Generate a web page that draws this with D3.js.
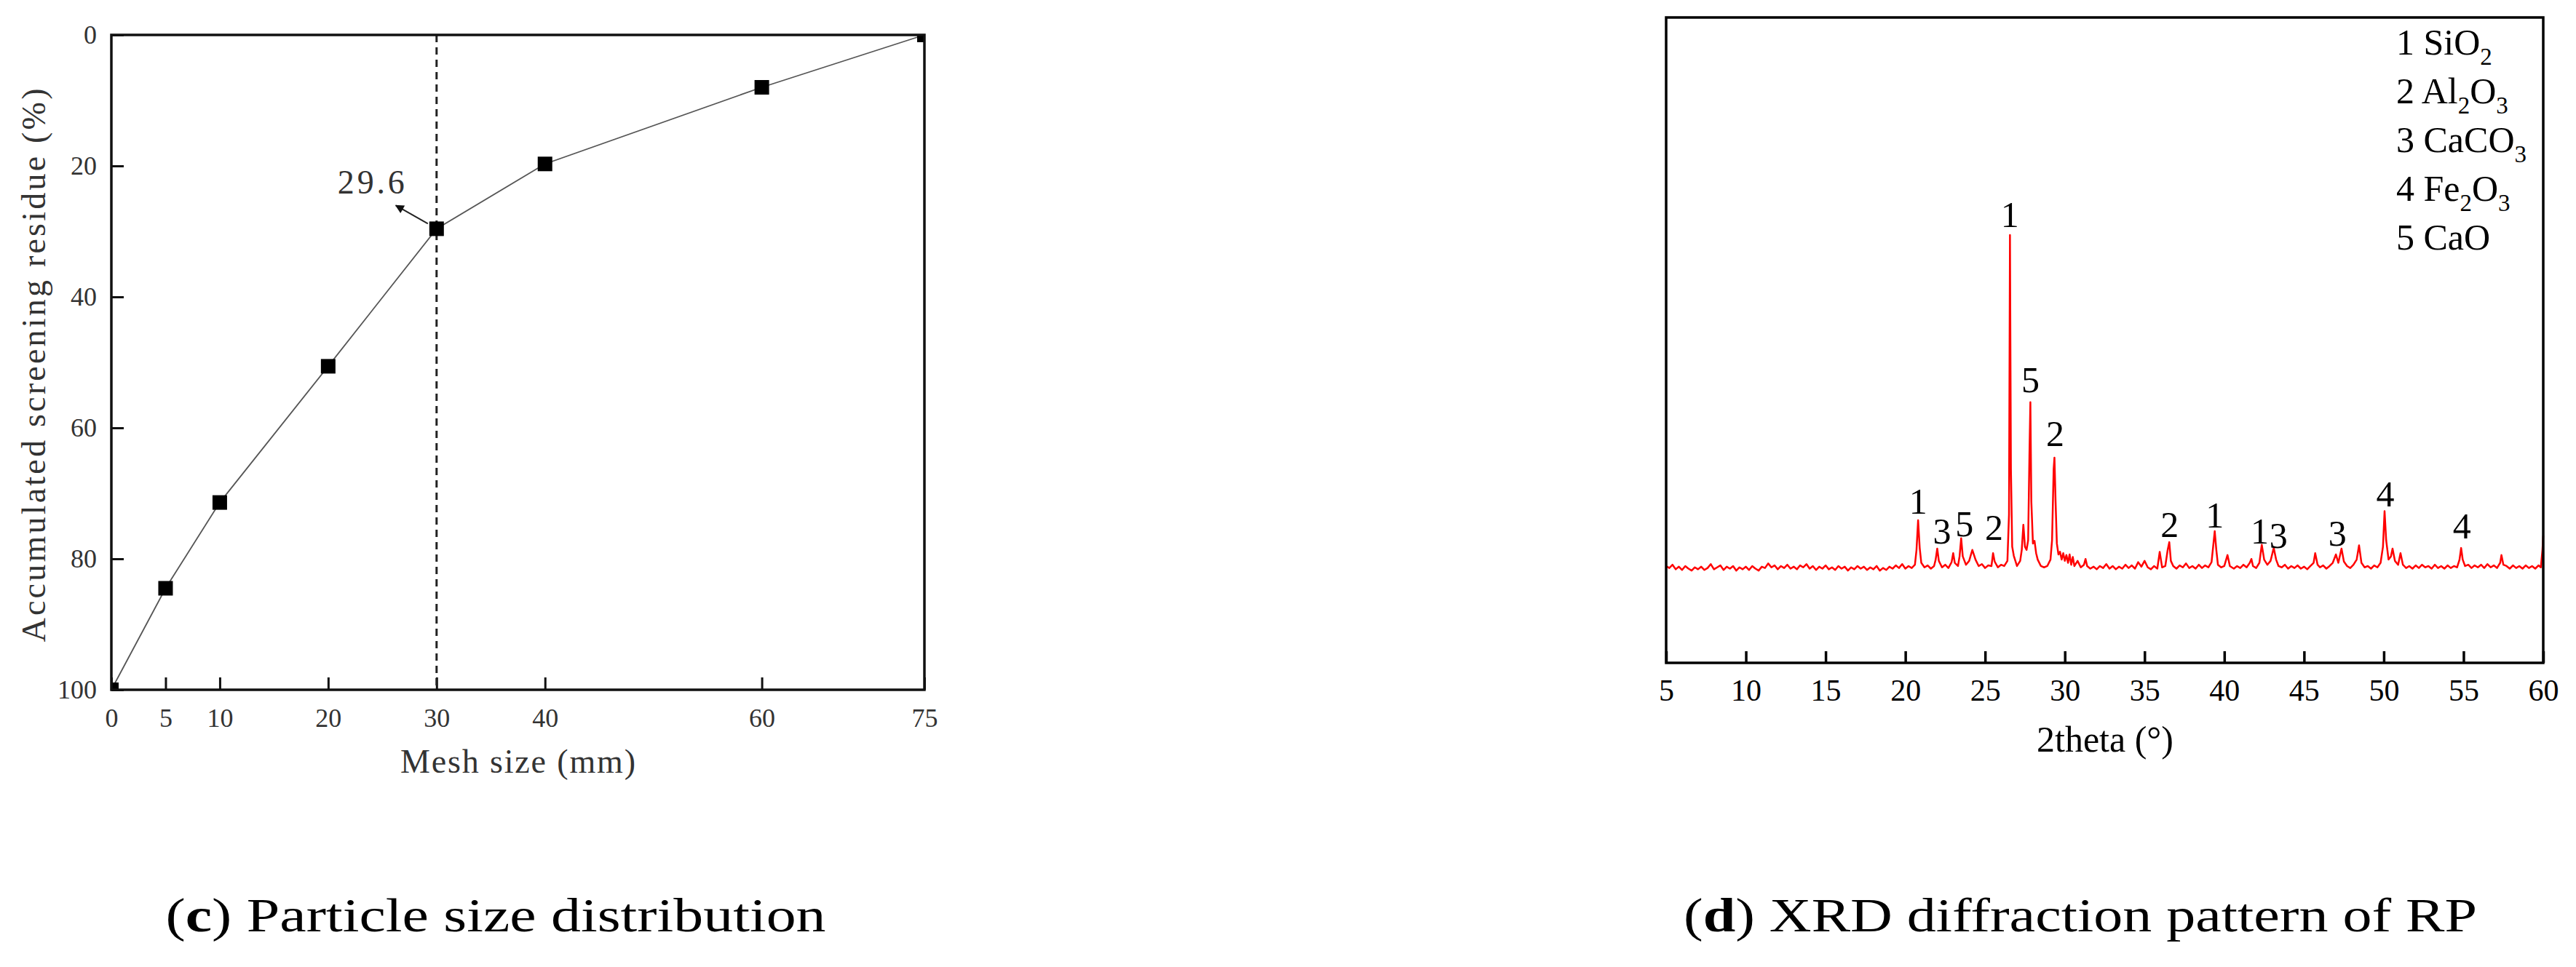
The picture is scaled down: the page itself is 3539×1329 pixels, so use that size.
<!DOCTYPE html>
<html>
<head>
<meta charset="utf-8">
<script src="https://cdnjs.cloudflare.com/ajax/libs/d3/7.8.5/d3.min.js"></script>
<style>
body { margin: 0; background: #fff; }
svg { display: block; background: #fff; }
</style>
</head>
<body>
<svg width="3539" height="1329"></svg>
<script>
// ---- (c) particle size distribution ----
var meshSizes = [0, 5, 10, 20, 30, 40, 60, 75];
var residues = [100, 84.5, 71.4, 50.6, 29.6, 19.7, 8.0, 0];
var meshTicks = [0, 5, 10, 20, 30, 40, 60, 75];
var residueTicks = [0, 20, 40, 60, 80, 100];
var markedMesh = 30;
var markedResidue = 29.6;

// ---- (d) XRD pattern, [2theta, intensity] ----
var thetaTicks = [5, 10, 15, 20, 25, 30, 35, 40, 45, 50, 55, 60];
var xrdPattern = [
  [5.0,150],[5.2,147],[5.4,152],[5.6,145],[5.8,149],[6.0,144],[6.2,150],[6.4,146],[6.6,143],[6.8,148],
  [7.0,145],[7.2,149],[7.4,144],[7.6,147],[7.8,153],[8.0,145],[8.2,148],[8.4,151],[8.6,144],[8.8,149],
  [9.0,146],[9.2,150],[9.4,143],[9.6,148],[9.8,145],[10.0,149],[10.2,144],[10.4,150],[10.6,146],[10.8,143],
  [11.0,149],[11.2,147],[11.4,154],[11.6,148],[11.8,151],[12.0,145],[12.2,150],[12.4,147],[12.6,152],[12.8,146],
  [13.0,149],[13.2,145],[13.4,151],[13.6,148],[13.8,153],[14.0,146],[14.2,150],[14.4,144],[14.6,149],[14.8,146],
  [15.0,151],[15.2,145],[15.4,148],[15.6,144],[15.8,150],[16.0,146],[16.2,149],[16.4,143],[16.6,148],[16.8,145],
  [17.0,150],[17.2,146],[17.4,149],[17.6,144],[17.8,148],[18.0,145],[18.2,150],[18.4,143],[18.6,147],[18.8,144],
  [19.0,149],[19.2,146],[19.4,151],[19.6,147],[19.8,153],[20.0,146],[20.2,150],[20.4,147],[20.6,152],[20.7,175],
  [20.8,221],[20.9,178],[21.0,155],[21.2,148],[21.4,151],[21.6,146],[21.8,150],[21.9,160],[22.0,177],[22.1,158],
  [22.3,148],[22.5,152],[22.7,147],[22.9,156],[23.0,170],[23.1,155],[23.3,150],[23.4,165],[23.5,193],[23.6,165],
  [23.8,152],[24.0,158],[24.2,175],[24.4,160],[24.6,150],[24.8,153],[25.0,147],[25.2,151],[25.4,150],[25.5,170],
  [25.6,157],[25.8,148],[26.0,152],[26.2,150],[26.4,158],[26.5,230],[26.56,663],[26.62,300],[26.7,180],[26.8,166],
  [26.9,158],[27.0,150],[27.2,158],[27.3,175],[27.4,214],[27.5,180],[27.6,175],[27.7,190],[27.78,320],[27.84,404],
  [27.9,250],[28.0,185],[28.1,189],[28.2,170],[28.3,160],[28.5,150],[28.7,148],[28.9,150],[29.1,160],[29.2,190],
  [29.3,300],[29.35,318],[29.42,250],[29.5,185],[29.6,168],[29.7,172],[29.8,160],[29.9,170],[30.0,158],[30.1,167],
  [30.2,155],[30.3,168],[30.4,152],[30.5,164],[30.6,150],[30.8,158],[31.0,148],[31.2,152],[31.3,161],[31.4,150],
  [31.6,146],[31.8,149],[32.0,145],[32.2,150],[32.4,147],[32.6,153],[32.8,146],[33.0,150],[33.2,145],[33.4,149],
  [33.6,146],[33.8,152],[34.0,147],[34.2,151],[34.4,146],[34.6,156],[34.8,149],[35.0,158],[35.2,148],[35.4,145],
  [35.6,150],[35.8,146],[35.95,172],[36.1,148],[36.3,150],[36.45,175],[36.55,187],[36.65,158],[36.8,150],[37.0,146],
  [37.2,151],[37.4,148],[37.6,154],[37.8,147],[38.0,150],[38.2,146],[38.4,152],[38.6,147],[38.8,151],[39.0,148],
  [39.2,156],[39.3,180],[39.4,204],[39.5,175],[39.6,152],[39.8,148],[40.0,150],[40.2,167],[40.35,150],[40.6,146],
  [40.8,150],[41.0,147],[41.2,152],[41.4,148],[41.6,155],[41.7,161],[41.8,150],[42.0,147],[42.2,155],[42.35,183],
  [42.5,160],[42.7,152],[42.9,158],[43.1,178],[43.25,160],[43.4,150],[43.6,148],[43.8,152],[44.0,146],[44.2,150],
  [44.4,147],[44.6,151],[44.8,146],[45.0,149],[45.2,145],[45.4,150],[45.6,155],[45.7,170],[45.85,152],[46.0,148],
  [46.2,151],[46.4,146],[46.6,150],[46.8,155],[47.0,168],[47.15,155],[47.35,177],[47.5,157],[47.7,150],[47.9,147],
  [48.1,152],[48.3,160],[48.45,182],[48.6,155],[48.8,148],[49.0,150],[49.2,146],[49.4,151],[49.6,148],[49.8,155],
  [49.95,180],[50.05,235],[50.15,190],[50.3,160],[50.45,165],[50.55,177],[50.7,158],[50.9,152],[51.05,170],[51.2,152],
  [51.4,147],[51.6,150],[51.8,146],[52.0,151],[52.2,147],[52.4,152],[52.6,148],[52.8,150],[53.0,146],[53.2,152],
  [53.4,147],[53.6,150],[53.8,146],[54.0,151],[54.2,147],[54.4,150],[54.6,148],[54.75,160],[54.85,178],[54.95,160],
  [55.1,150],[55.3,152],[55.5,147],[55.7,151],[55.9,148],[56.1,152],[56.3,147],[56.5,153],[56.7,148],[56.9,151],
  [57.1,147],[57.3,155],[57.38,167],[57.5,152],[57.7,150],[57.9,146],[58.1,151],[58.3,147],[58.5,150],[58.7,146],
  [58.9,151],[59.1,147],[59.3,150],[59.5,146],[59.7,151],[59.85,148],[59.95,175],[60.0,197]
];
// phase number over peaks: position in 2theta and intensity
var peakThetas = [26.56, 27.84, 29.4, 20.8, 22.3, 23.7, 25.56, 36.57, 39.4, 42.22, 43.4, 47.1, 50.1, 54.9];
var peakLevels = [695, 439, 355, 250, 204, 215, 210, 214, 229, 204, 197, 201, 262, 212];
var peakNames = ["1", "5", "2", "1", "3", "5", "2", "2", "1", "1", "3", "3", "4", "4"];
var phaseNumbers = ["1", "2", "3", "4", "5"];
var phaseFormulas = [
  [["SiO", 0], ["2", 1]],
  [["Al", 0], ["2", 1], ["O", 0], ["3", 1]],
  [["CaCO", 0], ["3", 1]],
  [["Fe", 0], ["2", 1], ["O", 0], ["3", 1]],
  [["CaO", 0]]
];

var serif = "'Liberation Serif', 'Times New Roman', serif";
var svg = d3.select("svg");

// ===== left panel =====
var L = {x0: 153, x1: 1270, y0: 48, y1: 948};
var x = d3.scaleLinear().domain([0, 75]).range([L.x0, L.x1]);
var y = d3.scaleLinear().domain([0, 100]).range([L.y0, L.y1]);

var defs = svg.append("defs");
defs.append("clipPath").attr("id", "clipL")
  .append("rect")
  .attr("x", L.x0).attr("y", L.y0)
  .attr("width", L.x1 - L.x0).attr("height", L.y1 - L.y0);

defs.append("marker")
  .attr("id", "arrow")
  .attr("viewBox", "0 0 10 10")
  .attr("refX", 9).attr("refY", 5)
  .attr("markerWidth", 9).attr("markerHeight", 6)
  .attr("markerUnits", "strokeWidth")
  .attr("orient", "auto")
  .append("path")
  .attr("d", "M0,0 L10,5 L0,10 z")
  .attr("fill", "#111");

var gL = svg.append("g");

var xAxisL = d3.axisBottom(x).tickValues(meshTicks).tickSizeInner(-17).tickSizeOuter(0).tickPadding(25);
var yAxisL = d3.axisLeft(y).tickValues(residueTicks).tickSizeInner(-17).tickSizeOuter(0).tickPadding(20);

gL.append("g").attr("transform", "translate(0," + L.y1 + ")").call(xAxisL);
gL.append("g").attr("transform", "translate(" + L.x0 + ",0)").call(yAxisL);
gL.selectAll(".domain").remove();
gL.selectAll(".tick line").attr("stroke", "#111").attr("stroke-width", 3);
gL.selectAll(".tick text")
  .attr("font-family", serif).attr("font-size", 36).attr("fill", "#333");

// dashed marker line at 30 mm
gL.append("line")
  .attr("x1", x(markedMesh)).attr("x2", x(markedMesh))
  .attr("y1", L.y0).attr("y2", L.y1)
  .attr("stroke", "#222").attr("stroke-width", 3)
  .attr("stroke-dasharray", "10,7");

var pts = meshSizes.map(function(m, i) { return [m, residues[i]]; });

gL.append("path")
  .datum(pts)
  .attr("fill", "none")
  .attr("stroke", "#555")
  .attr("stroke-width", 1.8)
  .attr("d", d3.line().x(function(d) { return x(d[0]); }).y(function(d) { return y(d[1]); }));

gL.append("g").attr("clip-path", "url(#clipL)")
  .selectAll("rect")
  .data(pts)
  .enter().append("rect")
  .attr("x", function(d) { return x(d[0]) - 10; })
  .attr("y", function(d) { return y(d[1]) - 10; })
  .attr("width", 20).attr("height", 20)
  .attr("fill", "#000");

// frame
gL.append("rect")
  .attr("x", L.x0).attr("y", L.y0)
  .attr("width", L.x1 - L.x0).attr("height", L.y1 - L.y0)
  .attr("fill", "none").attr("stroke", "#111").attr("stroke-width", 3.5);

// annotation 29.6
var ax = x(markedMesh), ay = y(markedResidue);
gL.append("line")
  .attr("x1", ax - 12).attr("y1", ay - 7)
  .attr("x2", ax - 56).attr("y2", ay - 32)
  .attr("stroke", "#222").attr("stroke-width", 2)
  .attr("marker-end", "url(#arrow)");
gL.append("text")
  .attr("x", ax - 136).attr("y", ay - 48)
  .attr("font-family", serif).attr("font-size", 46).attr("fill", "#333")
  .attr("textLength", 92).attr("lengthAdjust", "spacing")
  .text(markedResidue.toFixed(1));

gL.append("text")
  .attr("x", (L.x0 + L.x1) / 2).attr("y", 1062)
  .attr("text-anchor", "middle")
  .attr("font-family", serif).attr("font-size", 46).attr("fill", "#333")
  .attr("textLength", 323).attr("lengthAdjust", "spacing")
  .text("Mesh size (mm)");

gL.append("text")
  .attr("transform", "translate(62," + 502 + ") rotate(-90)")
  .attr("text-anchor", "middle")
  .attr("font-family", serif).attr("font-size", 46).attr("fill", "#333")
  .attr("textLength", 761).attr("lengthAdjust", "spacing")
  .text("Accumulated screening residue (%)");

// ===== right panel =====
var R = {x0: 2289, x1: 3494, y0: 24, y1: 911};
var xr = d3.scaleLinear().domain([5, 60]).range([R.x0, R.x1]);
var yr = d3.scaleLinear().domain([0, 1000]).range([R.y1, R.y0]);

var gR = svg.append("g");

gR.append("path")
  .datum(xrdPattern)
  .attr("fill", "none")
  .attr("stroke", "#ff0000")
  .attr("stroke-width", 2.5)
  .attr("stroke-linejoin", "round")
  .attr("d", d3.line().x(function(d) { return xr(d[0]); }).y(function(d) { return yr(d[1]); }));

var xAxisR = d3.axisBottom(xr).tickValues(thetaTicks).tickSizeInner(-16).tickSizeOuter(0).tickPadding(22);
gR.append("g").attr("transform", "translate(0," + R.y1 + ")").call(xAxisR);
gR.selectAll(".domain").remove();
gR.selectAll(".tick line").attr("stroke", "#000").attr("stroke-width", 3.5);
gR.selectAll(".tick text")
  .attr("font-family", serif).attr("font-size", 42).attr("fill", "#000");

gR.append("rect")
  .attr("x", R.x0).attr("y", R.y0)
  .attr("width", R.x1 - R.x0).attr("height", R.y1 - R.y0)
  .attr("fill", "none").attr("stroke", "#000").attr("stroke-width", 3.5);

gR.selectAll(".peak")
  .data(peakThetas)
  .enter().append("text")
  .attr("class", "peak")
  .attr("x", function(d) { return xr(d); })
  .attr("y", function(d, i) { return yr(peakLevels[i]) + 17; })
  .attr("text-anchor", "middle")
  .attr("font-family", serif).attr("font-size", 50).attr("fill", "#000")
  .text(function(d, i) { return peakNames[i]; });

gR.append("text")
  .attr("x", 2892).attr("y", 1033)
  .attr("text-anchor", "middle")
  .attr("font-family", serif).attr("font-size", 50).attr("fill", "#000")
  .text("2theta (°)");

// legend
var legend = gR.append("g");
phaseNumbers.forEach(function(num, i) {
  var t = legend.append("text")
    .attr("x", 3292).attr("y", 75 + i * 67)
    .attr("font-family", serif).attr("font-size", 50).attr("fill", "#000");
  t.append("tspan").text(num + " ");
  var low = false;
  phaseFormulas[i].forEach(function(p) {
    var s = t.append("tspan").text(p[0]);
    if (p[1] && !low) { s.attr("dy", 14).attr("font-size", 33); low = true; }
    else if (p[1]) { s.attr("font-size", 33); }
    else if (low) { s.attr("dy", -14); low = false; }
  });
});

// ===== captions =====
function caption(cx, letter, rest, len) {
  var t = svg.append("text")
    .attr("x", cx).attr("y", 1280)
    .attr("text-anchor", "middle")
    .attr("font-family", serif).attr("font-size", 66).attr("fill", "#000")
    .attr("textLength", len).attr("lengthAdjust", "spacingAndGlyphs");
  t.append("tspan").text("(");
  t.append("tspan").attr("font-weight", "bold").text(letter);
  t.append("tspan").text(") " + rest);
}
caption(681, "c", "Particle size distribution", 907);
caption(2858, "d", "XRD diffraction pattern of RP", 1090);
</script>
</body>
</html>
